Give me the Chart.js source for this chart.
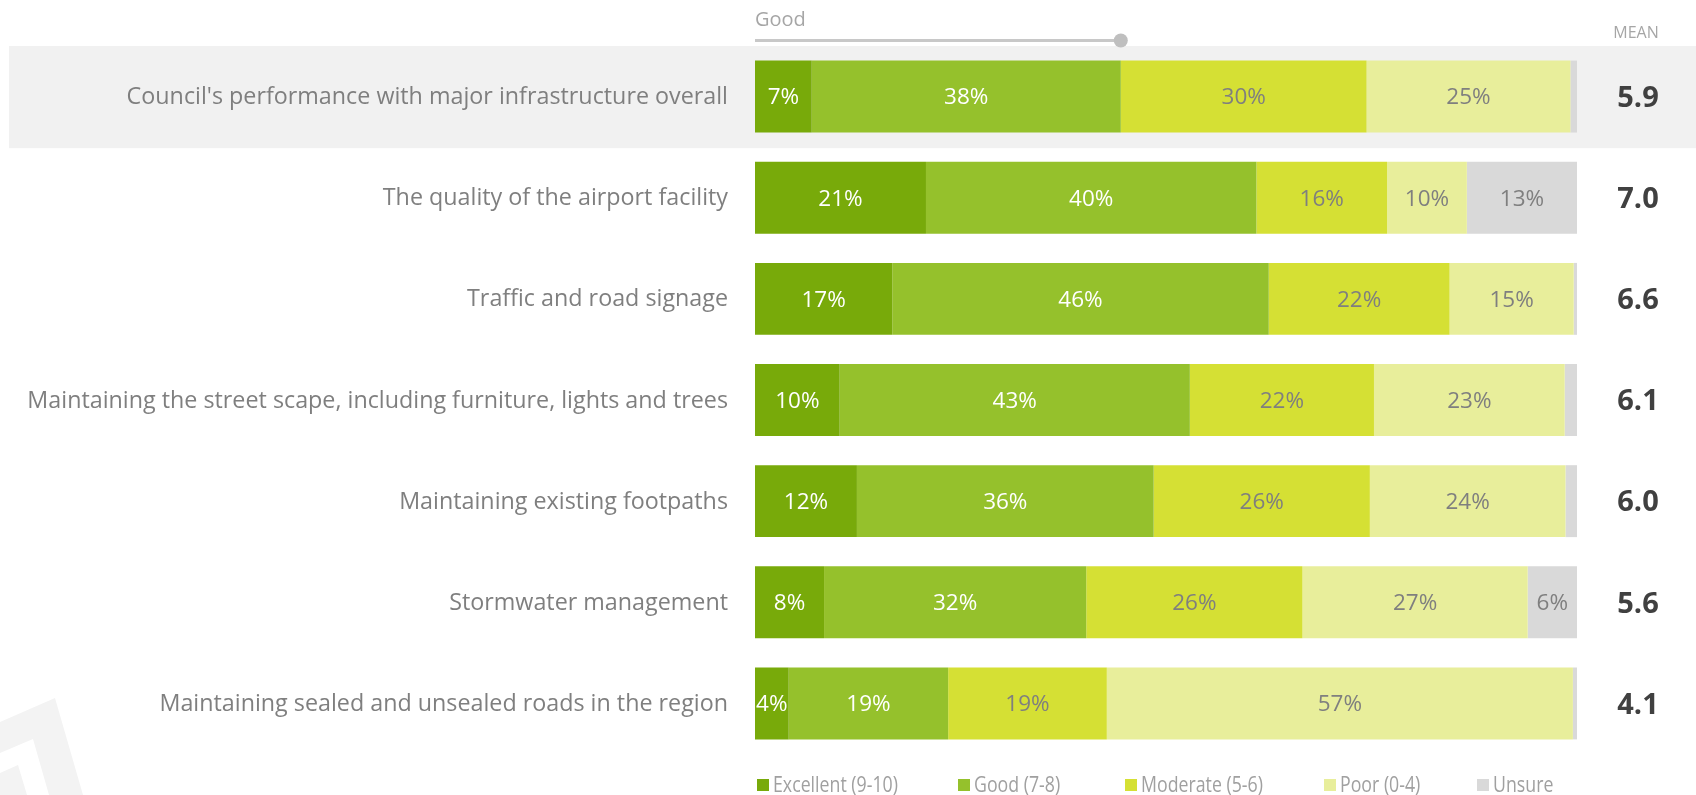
<!DOCTYPE html>
<html><head><meta charset="utf-8">
<script src="https://cdn.jsdelivr.net/npm/chart.js@4.4.1/dist/chart.umd.min.js"></script>
<style>html,body{margin:0;padding:0;background:#fff;}canvas{display:block;}</style>
</head><body>
<canvas id="c" width="1696" height="795"></canvas>
<script>
const categories = [
  "Council's performance with major infrastructure overall",
  "The quality of the airport facility",
  "Traffic and road signage",
  "Maintaining the street scape, including furniture, lights and trees",
  "Maintaining existing footpaths",
  "Stormwater management",
  "Maintaining sealed and unsealed roads in the region"
];
const excellent = [6.9, 20.8, 16.7, 10.3, 12.4, 8.4, 4.1];
const good      = [37.6, 40.2, 45.8, 42.6, 36.1, 31.9, 19.4];
const moderate  = [29.9, 15.9, 22.0, 22.4, 26.3, 26.3, 19.3];
const poor      = [24.8, 9.7, 15.1, 23.2, 23.8, 27.4, 56.7];
const unsure    = [0.8, 13.4, 0.4, 1.5, 1.4, 6.0, 0.5];
const means     = [5.9, 7.0, 6.6, 6.1, 6.0, 5.6, 4.1];
const seriesNames = ["Excellent (9-10)", "Good (7-8)", "Moderate (5-6)", "Poor (0-4)", "Unsure"];
const seriesColors = ["#78AA0A", "#95C12C", "#D5E034", "#E8EE9B", "#D9D9D9"];
const labelColors = ["#ffffff", "#ffffff", "#7f7f7f", "#7f7f7f", "#7f7f7f"];
const meanHeader = "MEAN";
const sliderLabel = "Good";

const FONT = "'Open Sans', sans-serif";

const bgPlugin = {
  id: 'bg',
  beforeDraw(chart) {
    const ctx = chart.ctx, y = chart.scales.y;
    const half = (y.getPixelForValue(1) - y.getPixelForValue(0)) / 2;
    const cy = y.getPixelForValue(0);
    ctx.save();
    // faint watermark
    ctx.fillStyle = '#F3F3F3';
    ctx.beginPath();
    ctx.moveTo(0, 722); ctx.lineTo(55, 698); ctx.lineTo(83, 795);
    ctx.lineTo(49, 795); ctx.lineTo(33, 739); ctx.lineTo(0, 753);
    ctx.closePath(); ctx.fill();
    ctx.beginPath();
    ctx.moveTo(0, 773); ctx.lineTo(18, 765); ctx.lineTo(27, 795); ctx.lineTo(0, 795);
    ctx.closePath(); ctx.fill();
    // highlight band
    ctx.fillStyle = '#F1F1F1';
    ctx.fillRect(9, cy - half, chart.width - 9, half * 2 + 1);
    ctx.restore();
  }
};

const overlayPlugin = {
  id: 'overlay',
  afterDatasetsDraw(chart) {
    const ctx = chart.ctx, x = chart.scales.x, y = chart.scales.y, area = chart.chartArea;
    ctx.save();
    // segment labels
    ctx.font = "22.5px " + FONT;
    ctx.textAlign = 'center';
    ctx.textBaseline = 'middle';
    chart.data.datasets.forEach((ds, di) => {
      const meta = chart.getDatasetMeta(di);
      meta.data.forEach((bar, i) => {
        const v = ds.data[i];
        if (v < 3) return;
        ctx.fillStyle = labelColors[di];
        ctx.fillText(Math.round(v) + '%', (bar.x + bar.base) / 2, bar.y + 1.5);
      });
    });
    // means
    ctx.font = "bold 29px " + FONT;
    ctx.fillStyle = '#404040';
    means.forEach((m, i) => {
      ctx.fillText(m.toFixed(1), 1638, y.getPixelForValue(i) + 2);
    });
    ctx.font = "16px " + FONT;
    ctx.fillStyle = '#A6A6A6';
    ctx.fillText(meanHeader, 1636, 33);
    // slider
    ctx.textAlign = 'left';
    ctx.font = "20px " + FONT;
    ctx.fillText(sliderLabel, area.left, 20);
    const sx = x.getPixelForValue(excellent[0] + good[0]);
    ctx.strokeStyle = '#C8C8C8';
    ctx.lineWidth = 3;
    ctx.beginPath();
    ctx.moveTo(area.left, 40.5);
    ctx.lineTo(sx, 40.5);
    ctx.stroke();
    ctx.fillStyle = '#BFBFBF';
    ctx.beginPath();
    ctx.arc(sx, 40.5, 7, 0, Math.PI * 2);
    ctx.fill();
    // legend
    const offs = [2, 203, 370, 569, 722];
    const ly = 785;
    seriesNames.forEach((n, i) => {
      const lx = area.left + offs[i];
      ctx.fillStyle = seriesColors[i];
      ctx.fillRect(lx, ly - 6, 12, 12);
      ctx.save();
      ctx.translate(lx + 16, ly);
      ctx.scale(0.845, 1);
      ctx.fillStyle = '#A0A0A0';
      ctx.font = "21px " + FONT;
      ctx.textBaseline = 'middle';
      ctx.fillText(n, 0, 1);
      ctx.restore();
    });
    ctx.restore();
  }
};

const datasets = [excellent, good, moderate, poor, unsure].map((d, i) => ({
  label: seriesNames[i],
  data: d,
  backgroundColor: seriesColors[i],
  borderWidth: 0,
  categoryPercentage: 1,
  barPercentage: 0.711
}));

new Chart(document.getElementById('c'), {
  type: 'bar',
  data: { labels: categories, datasets },
  options: {
    indexAxis: 'y',
    responsive: false,
    animation: false,
    events: [],
    layout: { padding: { top: 46, right: 119, bottom: 40, left: 0 } },
    plugins: { legend: { display: false }, tooltip: { enabled: false } },
    scales: {
      x: { stacked: true, min: 0, max: 100, display: false },
      y: {
        stacked: true,
        grid: { display: false, drawTicks: false },
        border: { display: false },
        ticks: { padding: 27, labelOffset: 1, color: '#7F7F7F', font: { family: FONT, size: 23.3 } },
        afterFit(s) { s.width = 755; }
      }
    }
  },
  plugins: [bgPlugin, overlayPlugin]
});
</script>
</body></html>
